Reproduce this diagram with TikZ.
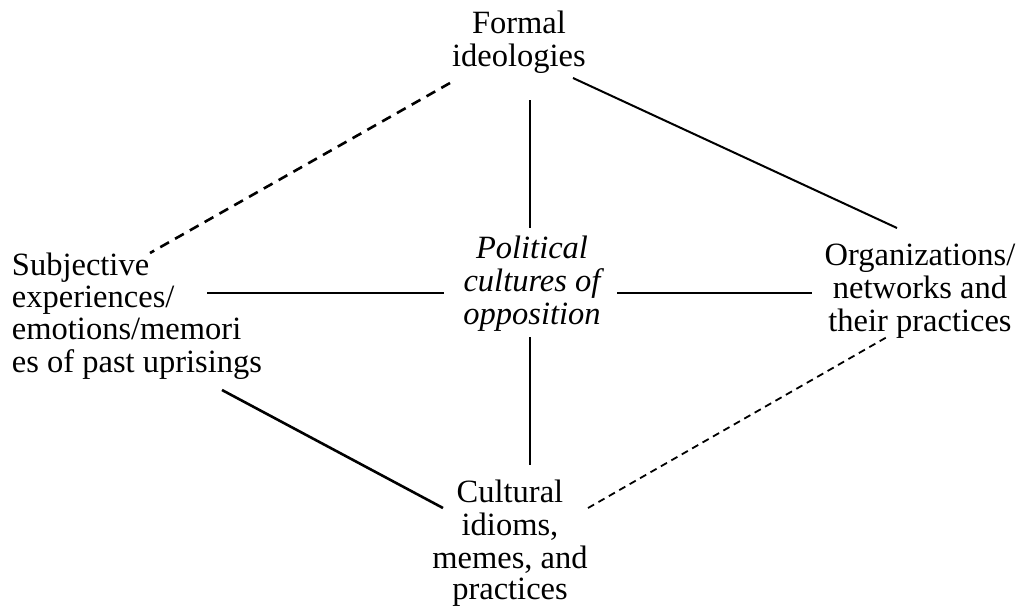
\documentclass[tikz,border=0pt]{standalone}
\usepackage{fontspec}
\setmainfont{Liberation Serif}
\begin{document}
\begin{tikzpicture}[x=1pt,y=-1pt,
  lbl/.style={inner sep=0pt, outer sep=0pt, anchor=north, align=center,
              font=\fontsize{32.5}{32}\selectfont},
  link/.style={line width=2pt},
  thicklink/.style={line width=2.6pt},
  dlink/.style={line width=2.6pt, dash pattern=on 10pt off 7pt},
  dlinkthin/.style={line width=1.8pt, dash pattern=on 7pt off 5pt}]
\useasboundingbox (0,0) rectangle (1018,606);

\node[lbl] (formal) at (519,10.6) {Formal\strut\\ideologies\strut};
\node[lbl, font=\fontsize{32.5}{33}\selectfont\itshape] (pol) at (532,234.9)
  {Political\strut\\cultures of\strut\\opposition\strut};
\node[lbl, anchor=north west, align=left] (subj) at (12,252.6)
  {Subjective\strut\\experiences/\strut\\emotions/memori\strut\\es of past uprisings\strut};
\node[lbl] (org) at (920,242.6)
  {Organizations/\strut\\networks and\strut\\their practices\strut};
\node[lbl, font=\fontsize{32.5}{31.5}\selectfont] (cult) at (510,479.5)
  {Cultural\strut\\idioms,\strut\\memes, and\strut\\practices\strut};

% connector end points
\coordinate (fv) at (530,100);
\coordinate (pv1) at (530,228);
\coordinate (pv2) at (530,337);
\coordinate (cv) at (530,465);
\coordinate (sh) at (207,293);
\coordinate (ph1) at (444,293);
\coordinate (ph2) at (617,293);
\coordinate (oh) at (812,293);
\coordinate (fd) at (450,83);
\coordinate (sd) at (150,253);
\coordinate (fo) at (573,78);
\coordinate (of) at (897,228);
\coordinate (sc) at (222,390);
\coordinate (cs) at (443,508);
\coordinate (cd) at (588,508);
\coordinate (od) at (887,337);

\draw[link] (fv) -- (pv1);
\draw[link] (pv2) -- (cv);
\draw[link] (sh) -- (ph1);
\draw[link] (ph2) -- (oh);
\draw[dlink] (fd) -- (sd);
\draw[link] (fo) -- (of);
\draw[thicklink] (sc) -- (cs);
\draw[dlinkthin] (cd) -- (od);
\end{tikzpicture}
\end{document}
